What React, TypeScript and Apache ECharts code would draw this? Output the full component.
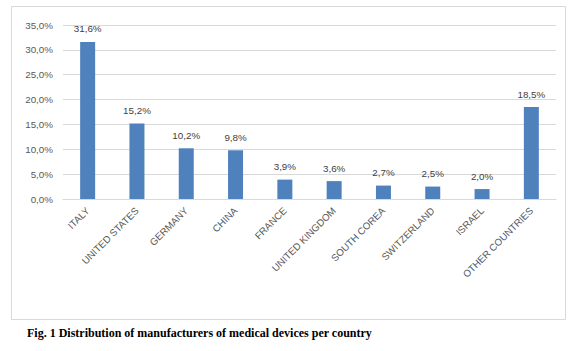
import React, { useEffect, useRef } from "react";
import * as echarts from "echarts";

const categories = [
  "ITALY",
  "UNITED STATES",
  "GERMANY",
  "CHINA",
  "FRANCE",
  "UNITED KINGDOM",
  "SOUTH COREA",
  "SWITZERLAND",
  "ISRAEL",
  "OTHER COUNTRIES",
];
const shares = [31.6, 15.2, 10.2, 9.8, 3.9, 3.6, 2.7, 2.5, 2.0, 18.5];
const caption = "Fig. 1 Distribution of manufacturers of medical devices per country";

const fmt = (v: number) => v.toFixed(1).replace(".", ",") + "%";

export default function App() {
  const ref = useRef<HTMLDivElement>(null);
  useEffect(() => {
    document.body.style.margin = "0";
    const chart = echarts.init(ref.current!, null, { renderer: "svg" });
    const font = "'Liberation Sans', Arial, sans-serif";
    chart.setOption({
      animation: false,
      backgroundColor: "#ffffff",
      grid: { left: 63, right: 20, top: 25, bottom: 152, containLabel: false },
      xAxis: {
        type: "category",
        data: categories,
        axisLine: { show: true, lineStyle: { color: "#d9d9d9", width: 1 } },
        axisTick: { show: false },
        axisLabel: {
          rotate: 45,
          interval: 0,
          margin: 10,
          color: "#595959",
          fontSize: 9.8,
          fontFamily: font,
        },
      },
      yAxis: {
        type: "value",
        min: 0,
        max: 35,
        interval: 5,
        axisLine: { show: false },
        axisTick: { show: false },
        splitLine: { lineStyle: { color: "#d9d9d9", width: 1 } },
        axisLabel: {
          formatter: (v: number) => fmt(v),
          color: "#595959",
          fontSize: 9.8,
          fontFamily: font,
          margin: 10,
        },
      },
      series: [
        {
          type: "bar",
          data: shares,
          barWidth: 15,
          itemStyle: { color: "#4f81bd" },
          label: {
            show: true,
            position: "top",
            distance: 8,
            formatter: (p: any) => fmt(p.value),
            color: "#404040",
            fontSize: 9.8,
            fontFamily: font,
          },
        },
      ],
      graphic: [
        {
          type: "rect",
          shape: { x: 11.5, y: 6.5, width: 554, height: 313 },
          style: { fill: "none", stroke: "#d9d9d9", lineWidth: 1 },
          silent: true,
        },
        {
          type: "text",
          left: 27,
          top: 327,
          style: {
            text: caption,
            font: "bold 12px 'Liberation Serif', 'Times New Roman', serif",
            fill: "#000000",
          },
        },
      ],
    });
    return () => chart.dispose();
  }, []);
  return <div ref={ref} style={{ width: 576, height: 351 }} />;
}
